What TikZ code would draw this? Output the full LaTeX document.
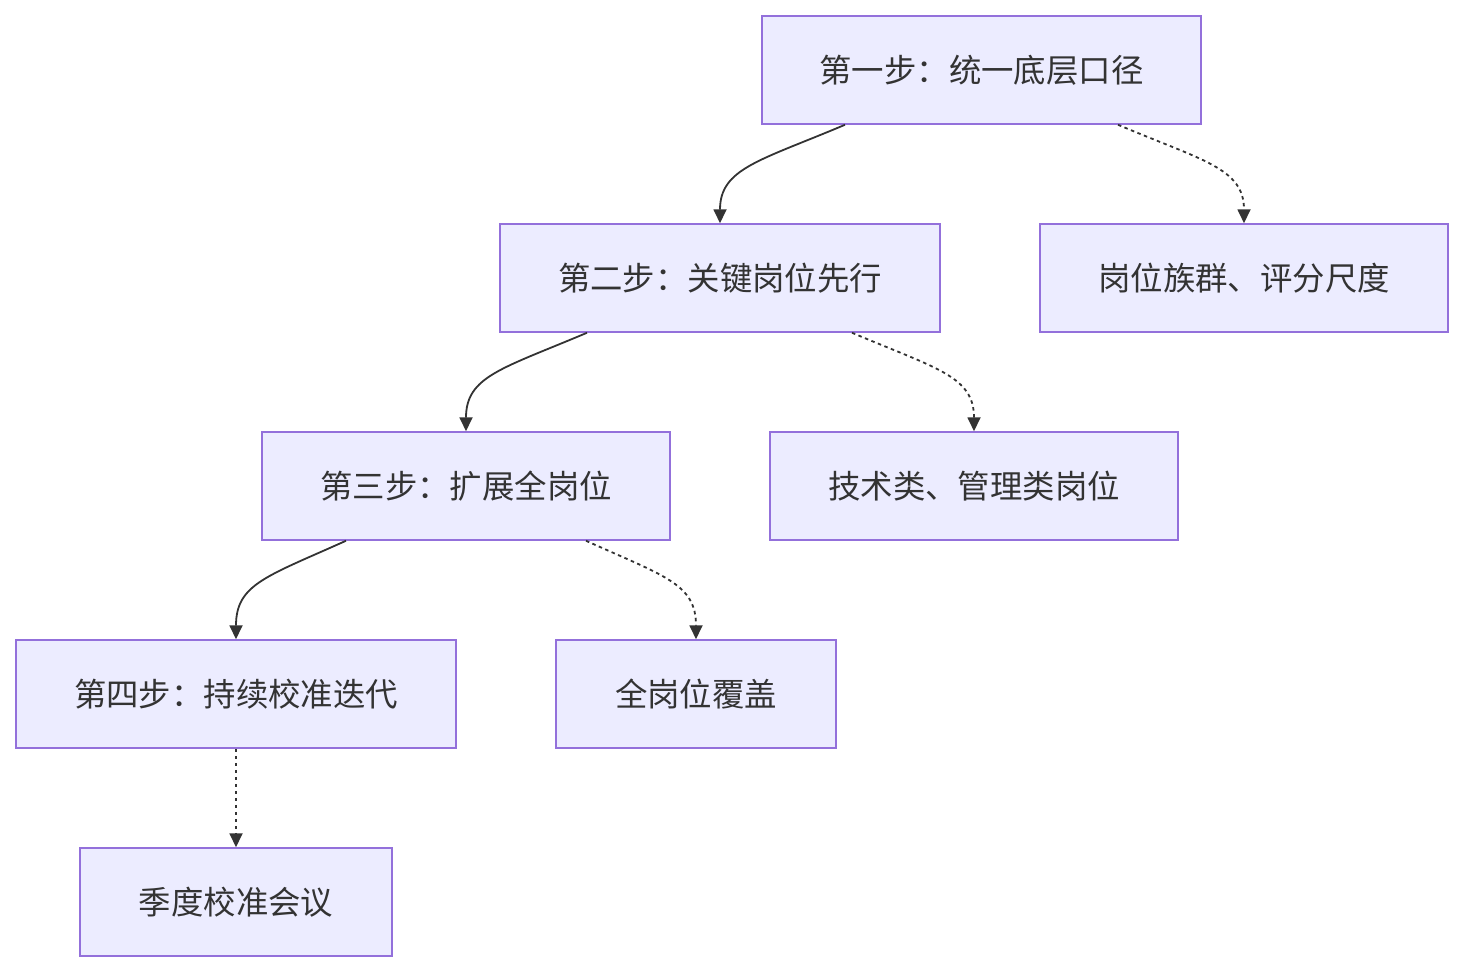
\documentclass[tikz,border=0pt]{standalone}
\usepackage{fontspec}
\setmainfont{Noto Sans CJK SC}
\usetikzlibrary{arrows.meta}
\definecolor{boxfill}{HTML}{ECECFF}
\definecolor{boxline}{HTML}{9370DB}
\definecolor{ink}{HTML}{333333}
\tikzset{
  box/.style={draw=boxline, fill=boxfill, line width=1.5pt, minimum height=108pt, inner sep=0pt, text=ink, font=\fontsize{32.4}{38}\selectfont},
  link/.style={draw=ink, line width=1.8pt, -{Triangle[length=14pt,width=13pt]}},
  dlink/.style={link, dash pattern=on 3.5pt off 3.5pt},
}
\begin{document}
\begin{tikzpicture}[x=1pt,y=-1pt]
\useasboundingbox (0,0) rectangle (1464,972);
\node[box, minimum width=439pt] (n1) at (981.5,70) {第一步：统一底层口径};
\node[box, minimum width=440pt] (n2) at (720,278) {第二步：关键岗位先行};
\node[box, minimum width=408pt] (n3) at (1244,278) {岗位族群、评分尺度};
\node[box, minimum width=408pt] (n4) at (466,486) {第三步：扩展全岗位};
\node[box, minimum width=408pt] (n5) at (974,486) {技术类、管理类岗位};
\node[box, minimum width=440pt] (n6) at (236,694) {第四步：持续校准迭代};
\node[box, minimum width=280pt] (n7) at (696,694) {全岗位覆盖};
\node[box, minimum width=312pt] (n8) at (236,902) {季度校准会议};
\draw[link] ([xshift=-136.5pt]n1.south) .. controls +(-85,36) and +(0,-55) .. (n2.north);
\draw[dlink] ([xshift=136.5pt]n1.south) .. controls +(85,36) and +(0,-55) .. (n3.north);
\draw[link] ([xshift=-133pt]n2.south) .. controls +(-85,36) and +(0,-55) .. (n4.north);
\draw[dlink] ([xshift=132pt]n2.south) .. controls +(85,36) and +(0,-55) .. (n5.north);
\draw[link] ([xshift=-120pt]n4.south) .. controls +(-80,36) and +(0,-55) .. (n6.north);
\draw[dlink] ([xshift=120pt]n4.south) .. controls +(80,36) and +(0,-55) .. (n7.north);
\draw[dlink] (n6.south) -- (n8.north);
\end{tikzpicture}
\end{document}
